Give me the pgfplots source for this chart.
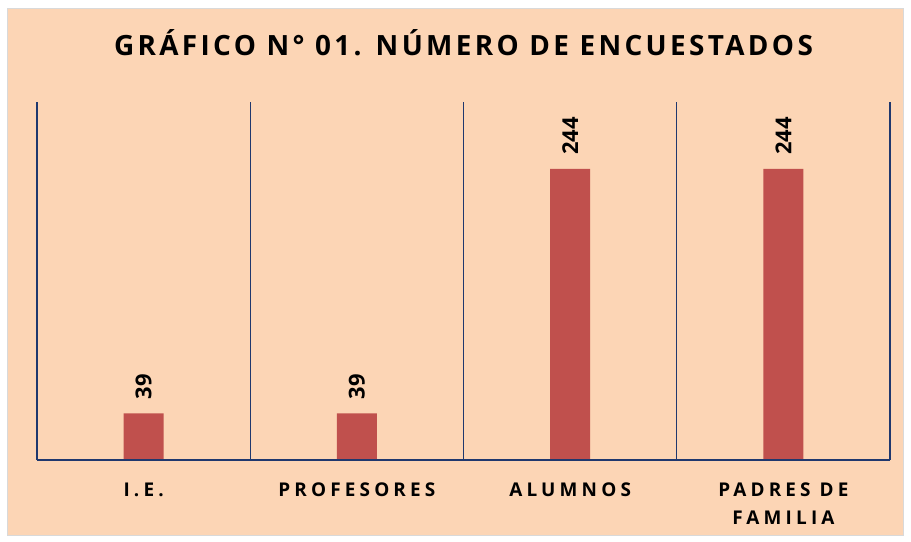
\documentclass[border=0pt]{standalone}
\usepackage{pgfplots}
\pgfplotsset{compat=1.18}
\usepackage{fontspec}
\setmainfont{Open Sans}
\newfontfamily\titlefont[LetterSpace=12]{Open Sans}
\newfontfamily\tickfont[LetterSpace=22]{Open Sans}
\definecolor{peach}{RGB}{252,213,181}
\definecolor{barred}{RGB}{192,80,77}
\definecolor{navyline}{RGB}{31,56,110}
\definecolor{frame}{RGB}{217,217,217}
\begin{document}
\begin{tikzpicture}[x=1bp,y=1bp]
\useasboundingbox (0,0) rectangle (911,542);
\fill[white] (0,0) rectangle (911,542);
\filldraw[fill=peach, draw=frame, line width=1bp] (7.5,6.5) rectangle (903.5,533);
\begin{axis}[
at={(143.625bp,82bp)}, anchor=origin,
scale only axis,
width=853bp, height=358bp,
xmin=-0.5, xmax=3.5,
ymin=0, ymax=300,
axis line style={draw=none},
ytick=\empty,
xtick={0,1,2,3},
xticklabels={I.E.,PROFESORES,ALUMNOS,{PADRES DE\\FAMILIA}},
xtick style={draw=none},
xticklabel style={font=\tickfont\bfseries\fontsize{19}{28}\selectfont, align=center, yshift=-15bp},
title={GRÁFICO N° 01. NÚMERO DE ENCUESTADOS},
title style={font=\titlefont\bfseries\fontsize{28}{30}\selectfont, at={(0.5,1)}, anchor=base, yshift=41bp},
ybar, bar width=40bp,
nodes near coords,
nodes near coords style={font=\bfseries\fontsize{22}{26}\selectfont, rotate=90, anchor=west, inner xsep=14bp, text=black,
  /pgf/number format/assume math mode=true},
clip=false,
]
\addplot[fill=barred, draw=none] coordinates {(0,39) (1,39) (2,244) (3,244)};
\pgfplotsinvokeforeach{-0.5,0.5,1.5,2.5,3.5}{
  \draw[navyline, line width=1.4bp] (axis cs:#1,0) -- (axis cs:#1,300);
}
\draw[navyline, line width=1.4bp] (axis cs:-0.5,0) -- (axis cs:3.5,0);
\end{axis}
\end{tikzpicture}
\end{document}
